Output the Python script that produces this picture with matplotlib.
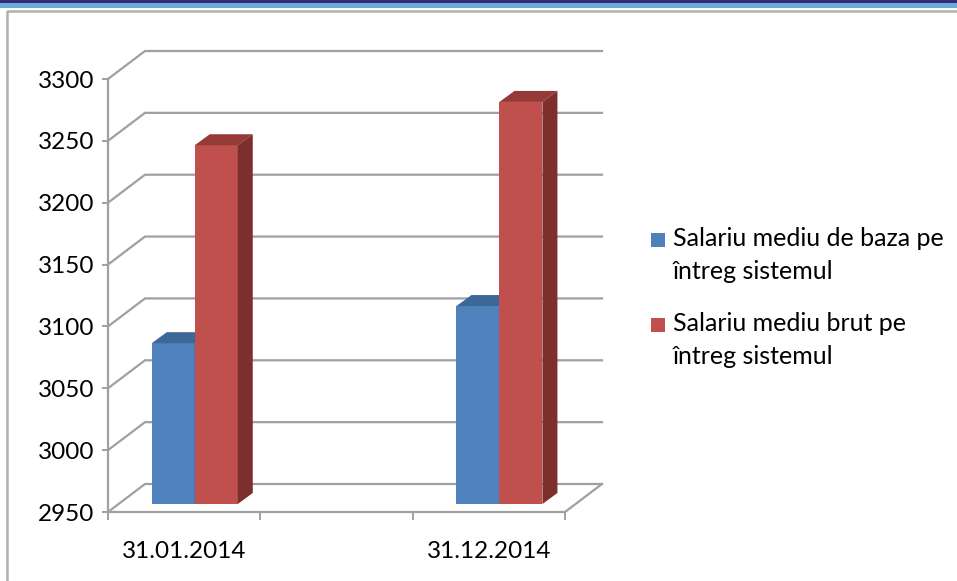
import matplotlib
matplotlib.use("Agg")
import matplotlib.pyplot as plt
from matplotlib.patches import Polygon, Rectangle
import numpy as np

# ---- data ----
categories = ["31.01.2014", "", "31.12.2014"]
series_names = ["Salariu mediu de baza pe\nîntreg sistemul",
                "Salariu mediu brut pe\nîntreg sistemul"]
baza = [3080, np.nan, 3110]
brut = [3240, np.nan, 3275]
y_ticks = [2950, 3000, 3050, 3100, 3150, 3200, 3250, 3300]

# ---- style ----
W, H, DPI = 957, 581, 100
FONT = ["Lato", "DejaVu Sans"]
plt.rcParams["font.family"] = FONT
FS = 17.5
FS_LEG = 18
GRID = "#A0A0A0"
front_cols = ["#4F81BD", "#C0504D"]
top_cols = ["#3D6796", "#963A37"]
side_cols = ["#385D8A", "#7C2F2D"]

fig = plt.figure(figsize=(W / DPI, H / DPI), dpi=DPI)

# pixel helper (image coordinates, y downward)
def px_rect(x0, y0, x1, y1, **kw):
    fig.patches.append(Rectangle((x0 / W, 1 - y1 / H), (x1 - x0) / W, (y1 - y0) / H,
                                 transform=fig.transFigure, **kw))

# header bands and frame
px_rect(0, 0, W, 3.2, color="#322C78", lw=0)
px_rect(0, 3.2, W, 8.3, color="#6BAAD8", lw=0)
fig.lines.append(plt.Line2D([7.5 / W, 7.5 / W, 1.0], [0, 1 - 10.5 / H, 1 - 10.5 / H],
                            transform=fig.transFigure, color="#B0B0B0", lw=1.8))

# front plane of plot: x 108..565, y(2950)=512, y(3300)=79
x0p, x1p, yb, yt = 108, 565, 512, 79
ax = fig.add_axes([x0p / W, 1 - yb / H, (x1p - x0p) / W, (yb - yt) / H])
ax.set_xlim(0, len(categories))
ax.set_ylim(y_ticks[0], y_ticks[-1])
ax.patch.set_visible(False)

px_per_x = (x1p - x0p) / len(categories)
px_per_y = (yb - yt) / (y_ticks[-1] - y_ticks[0])
def off(dxp, dyp):
    return dxp / px_per_x, dyp / px_per_y

# depth of floor
FDX, FDY = off(37, 28)

# gridlines (side wall diagonal + back wall)
for v in y_ticks:
    ax.plot([0, FDX, len(categories) + FDX], [v, v + FDY, v + FDY],
            color=GRID, lw=1.6, clip_on=False, zorder=1, solid_joinstyle="miter")
# floor right edge
ax.plot([len(categories), len(categories) + FDX], [y_ticks[0], y_ticks[0] + FDY],
        color=GRID, lw=1.6, clip_on=False, zorder=1)

# spines / axes
for s in ["top", "right"]:
    ax.spines[s].set_visible(False)
for s in ["left", "bottom"]:
    ax.spines[s].set_color(GRID)
    ax.spines[s].set_linewidth(1.6)
    ax.spines[s].set_zorder(1)

ax.set_yticks(y_ticks)
ax.set_yticklabels([str(v) for v in y_ticks])
ax.tick_params(axis="y", length=4, width=1.4, color=GRID, labelsize=FS, pad=6, labelcolor="black")
ax.set_xticks(np.arange(len(categories) + 1))
ax.set_xticklabels([])
ax.tick_params(axis="x", which="major", length=6, width=1.4, color=GRID)
ax.set_xticks(np.arange(len(categories)) + 0.5, minor=True)
ax.set_xticklabels(categories, minor=True)
ax.tick_params(axis="x", which="minor", length=0, labelsize=FS, pad=21, labelcolor="black")

# bars
bw = 43 / px_per_x
d1x, d1y = off(10.6, 8)
d2x, d2y = off(25.6, 19)
xs = np.arange(len(categories)) + 0.5
for i, xc in enumerate(xs):
    for k, vals in enumerate([baza, brut]):
        v = vals[i]
        if np.isnan(v):
            continue
        left = xc + (k - 1) * bw
        bars = ax.bar([left], [v - y_ticks[0]], bottom=y_ticks[0], width=bw, align="edge",
                      color=front_cols[k], lw=0, zorder=3 + k * 2, clip_on=False)
        for p in bars.patches:
            p.set_x(left + d1x)
            p.set_y(y_ticks[0] + d1y)
        L, R = left + d1x, left + bw + d1x
        T, B = v + d1y, y_ticks[0] + d1y
        ddx, ddy = d2x - d1x, d2y - d1y
        top = Polygon([[L, T], [R, T], [R + ddx, T + ddy], [L + ddx, T + ddy]],
                      closed=True, color=top_cols[k], lw=0, zorder=3 + k * 2, clip_on=False)
        side = Polygon([[R, B], [R, T], [R + ddx, T + ddy], [R + ddx, B + ddy]],
                       closed=True, color=side_cols[k], lw=0, zorder=3 + k * 2, clip_on=False)
        ax.add_patch(top)
        ax.add_patch(side)

# legend (manual)
leg_entries = [(233, front_cols[0], series_names[0]), (318, front_cols[1], series_names[1])]
for ytop, col, name in leg_entries:
    px_rect(651, ytop, 665, ytop + 14, color=col, lw=0)
    fig.text(673 / W, 1 - (ytop - 6) / H, name, fontsize=FS_LEG, va="top", ha="left",
             linespacing=1.52, family=FONT)

fig.savefig("out.png", dpi=DPI)
